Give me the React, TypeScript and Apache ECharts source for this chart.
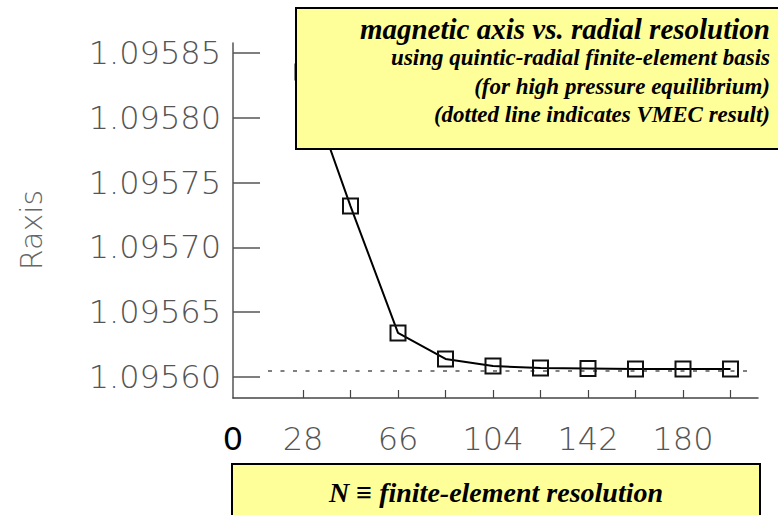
import React, { useEffect, useRef } from "react";
import * as echarts from "echarts";

const resolutionN = [28, 47, 66, 85, 104, 123, 142, 161, 180, 199];
const raxisValues = [
  1.0958353, 1.0957319, 1.095634, 1.0956139, 1.0956085, 1.0956069, 1.0956066,
  1.0956062, 1.0956062, 1.0956062,
];
const vmecRange = [14, 206];
const vmecValue = 1.0956046;
const xTickValues = [28, 47, 66, 85, 104, 123, 142, 161, 180, 199];
const xLabelValues = [0, 28, 66, 104, 142, 180];
const yTickValues = [1.0956, 1.09565, 1.0957, 1.09575, 1.0958, 1.09585];
const titleLines = [
  "magnetic axis vs. radial resolution",
  "using quintic-radial finite-element basis",
  "(for high pressure equilibrium)",
  "(dotted line indicates VMEC result)",
];
const xTitle = "N \u2261 finite-element resolution";
const yTitle = "Raxis";

export default function App() {
  const ref = useRef<HTMLDivElement>(null);
  useEffect(() => {
    if (!ref.current) return;
    const chart = echarts.init(ref.current, null, { renderer: "svg" });
    const tickFont = {
      fontFamily: "DejaVu Sans",
      fontWeight: 200 as any,
      fontSize: 32,
    };
    const serif = "'Liberation Serif', 'Times New Roman', serif";
    chart.setOption({
      animation: false,
      backgroundColor: "#fff",
      grid: { left: 233, right: 20, top: 43, bottom: 117, containLabel: false },
      xAxis: {
        type: "value",
        min: 0,
        max: 210,
        splitLine: { show: false },
        axisLine: { show: true, lineStyle: { color: "#444", width: 1.5 } },
        axisTick: {
          show: true,
          inside: true,
          length: 8,
          customValues: xTickValues,
          lineStyle: { color: "#444", width: 1.2 },
        },
        axisLabel: {
          customValues: xLabelValues,
          margin: 25,
          ...tickFont,
          color: "#555",
          formatter: (v: number) => (Number(v) === 0 ? "{z|0}" : String(v)),
          rich: {
            z: {
              fontFamily: "DejaVu Sans",
              fontSize: 32,
              fontWeight: "normal",
              color: "#000",
            },
          },
        },
      },
      yAxis: {
        type: "value",
        min: 1.0955838,
        max: 1.0958577,
        splitLine: { show: false },
        axisLine: { show: true, lineStyle: { color: "#555", width: 1.5 } },
        axisTick: {
          show: true,
          inside: true,
          length: 27,
          customValues: yTickValues,
          lineStyle: { color: "#555", width: 1.5 },
        },
        axisLabel: {
          customValues: yTickValues,
          margin: 12,
          ...tickFont,
          color: "#555",
          formatter: (v: number) => v.toFixed(5),
        },
      },
      series: [
        {
          type: "line",
          data: vmecRange.map((n) => [n, vmecValue]),
          symbol: "none",
          lineStyle: { color: "#555", width: 1.5, type: [4, 8.5] },
          z: 1,
        },
        {
          type: "line",
          data: resolutionN.map((n, i) => [n, raxisValues[i]]),
          symbol: "rect",
          symbolSize: 15,
          lineStyle: { color: "#000", width: 2 },
          itemStyle: { color: "rgba(0,0,0,0)", borderColor: "#111", borderWidth: 2 },
          z: 2,
        },
      ],
      graphic: [
        {
          type: "rect",
          z: 100,
          shape: { x: 296, y: 8, width: 500, height: 141 },
          style: { fill: "#ffff99", stroke: "#000", lineWidth: 2 },
        },
        ...titleLines.map((t, i) => ({
          type: "text",
          z: 101,
          x: 770,
          y: i === 0 ? 43 : 42 + 27 + (i - 1) * 28.5,
          style: {
            text: t,
            textAlign: "right",
            textVerticalAlign: "bottom",
            font: `italic bold ${i === 0 ? 29 : 23}px ${serif}`,
            fill: "#000",
          },
        })),
        {
          type: "rect",
          z: 100,
          shape: { x: 232, y: 464, width: 528, height: 60 },
          style: { fill: "#ffff99", stroke: "#000", lineWidth: 2 },
        },
        {
          type: "text",
          z: 101,
          x: 496,
          y: 492,
          style: {
            text: xTitle,
            textAlign: "center",
            textVerticalAlign: "middle",
            font: `italic bold 28px ${serif}`,
            fill: "#000",
          },
        },
        {
          type: "text",
          z: 101,
          x: 31,
          y: 230,
          rotation: Math.PI / 2,
          style: {
            text: yTitle,
            textAlign: "center",
            textVerticalAlign: "middle",
            font: `200 30px 'DejaVu Sans'`,
            fill: "#666",
          },
        },
      ],
    });
    return () => chart.dispose();
  }, []);
  return (
    <div
      ref={ref}
      style={{ width: 778, height: 515, position: "absolute", left: 0, top: 0 }}
    />
  );
}
